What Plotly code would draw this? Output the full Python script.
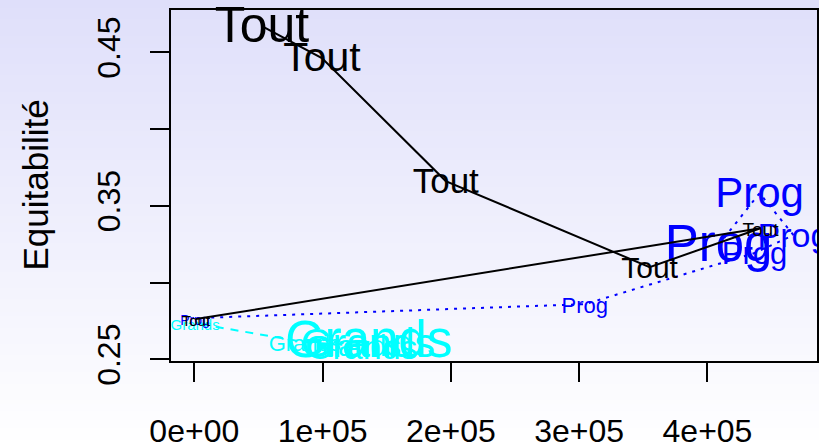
import plotly.graph_objects as go

# ---------------- data ----------------
tout_x = [52700, 99450, 196000, 354900, 441300, 1300]
tout_y = [0.4671, 0.4463, 0.3662, 0.3101, 0.3355, 0.2763]
tout_size = [50, 41, 35, 30, 19, 15]

prog_x = [408600, 440600, 467000, 436700, 304300, 600]
prog_y = [0.3245, 0.3583, 0.3310, 0.3193, 0.2860, 0.2769]
prog_size = [51, 42, 34, 31, 22, 14]

grands_x = [136000, 135200, 130600, 124000, 86100, 600]
grands_y = [0.2619, 0.2600, 0.2575, 0.2590, 0.2613, 0.2736]
grands_size = [51, 41, 34, 29, 22, 15]

x_ticks = [0, 100000, 200000, 300000, 400000]
x_tick_labels = ["0e+00", "1e+05", "2e+05", "3e+05", "4e+05"]
y_ticks = [0.25, 0.30, 0.35, 0.40, 0.45]
y_tick_labels = ["0.25", "", "0.35", "", "0.45"]

FONT = "Liberation Sans, Arial, Helvetica, sans-serif"

W, H = 819, 447
L, R, T, B = 171, 2, 10, 86
pw, ph = W - L - R, H - T - B
X_RANGE = [-18150, 485360]
Y_RANGE = [0.249, 0.4776]

# R centres labels a few pixels lower than plotly does
TEXT_DROP_PX = 3
text_dy = TEXT_DROP_PX * (Y_RANGE[1] - Y_RANGE[0]) / ph

fig = go.Figure()

series = [
    ("Grands", grands_x, grands_y, grands_size, "#00FFFF", "8px,7px"),
    ("Prog", prog_x, prog_y, prog_size, "#0000FF", "3px,6px"),
    ("Tout", tout_x, tout_y, tout_size, "#000000", "solid"),
]
for name, xs, ys, sz, col, dash in series:
    fig.add_trace(go.Scatter(x=xs, y=ys, mode="lines", cliponaxis=False,
                             line=dict(color=col, width=2, dash=dash),
                             hoverinfo="skip", showlegend=False))
    fig.add_trace(go.Scatter(x=xs, y=[v - text_dy for v in ys], mode="text",
                             text=[name] * len(xs),
                             textposition="middle center", cliponaxis=False,
                             textfont=dict(family=FONT, size=sz, color=col),
                             hoverinfo="skip", showlegend=False))

# background gradient (lavender at top to white at bottom)
shapes = []
step = 4
top = (223, 223, 250)
bot = (255, 255, 255)
for py in range(0, H, step):
    f = (py + step / 2) / H
    c = tuple(round(top[i] + (bot[i] - top[i]) * f) for i in range(3))
    y0 = (H - B - (py + step)) / ph
    y1 = (H - B - py) / ph
    shapes.append(dict(type="rect", xref="paper", yref="paper",
                       x0=-0.4, x1=1.1, y0=y0, y1=y1 + 0.001,
                       fillcolor="rgb(%d,%d,%d)" % c, line=dict(width=0),
                       layer="below"))

fig.update_layout(
    width=W, height=H,
    margin=dict(l=L, r=R, t=T, b=B, autoexpand=False),
    paper_bgcolor="white",
    plot_bgcolor="rgba(0,0,0,0)",
    shapes=shapes,
    font=dict(family=FONT, color="black"),
    annotations=[dict(text="Equitabilité", xref="paper", yref="paper",
                      x=(35 - L) / pw, y=0.5, xanchor="center", yanchor="middle",
                      textangle=-90, showarrow=False,
                      font=dict(family=FONT, size=35, color="black"))],
)
fig.update_xaxes(range=X_RANGE, tickvals=x_ticks, ticktext=x_tick_labels,
                 showgrid=False, zeroline=False, showline=True, mirror=True,
                 linecolor="black", linewidth=1.5, ticks="outside", ticklen=19,
                 tickwidth=1.5, tickcolor="black", automargin=False,
                 tickfont=dict(family=FONT, size=32, color="black"),
                 ticklabelstandoff=22)
fig.update_yaxes(range=Y_RANGE, tickvals=y_ticks, ticktext=y_tick_labels,
                 showgrid=False, zeroline=False, showline=True, mirror=True,
                 linecolor="black", linewidth=1.5, ticks="outside", ticklen=19,
                 tickwidth=1.5, tickcolor="black", tickangle=-90, automargin=False,
                 tickfont=dict(family=FONT, size=32, color="black"),
                 ticklabelstandoff=17)

fig.write_html("out.html", config={"displayModeBar": False},
               post_script="document.body.style.margin='0px';")
